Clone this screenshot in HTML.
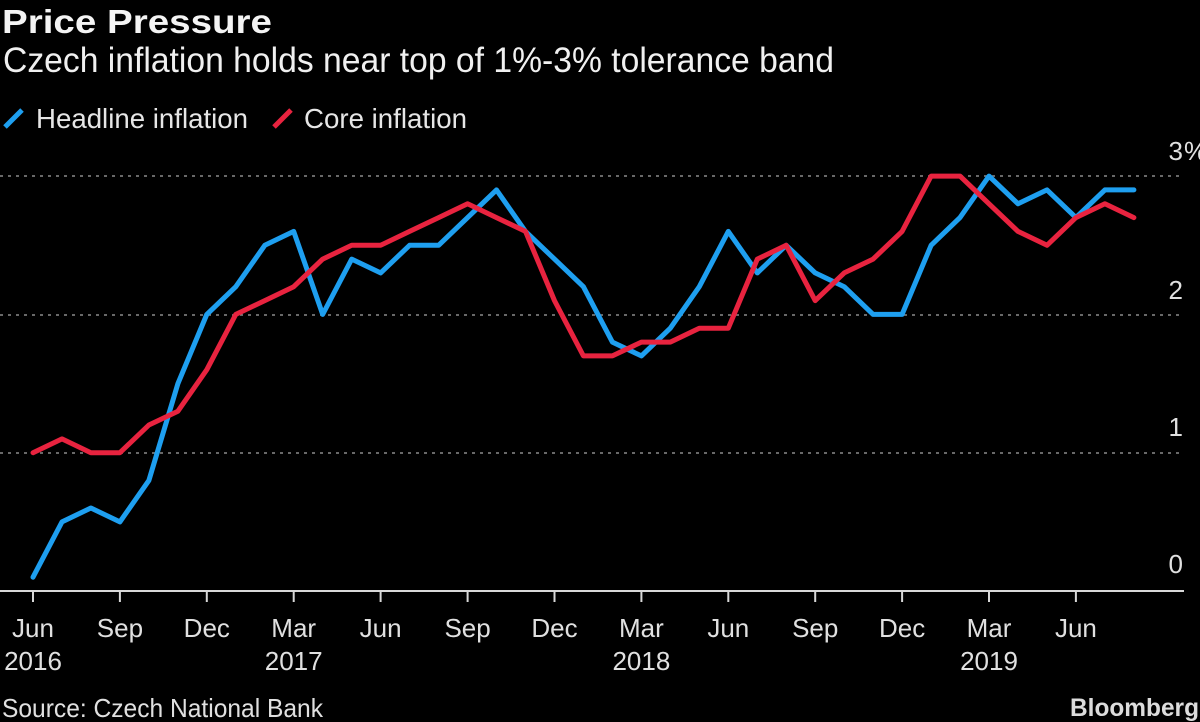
<!DOCTYPE html>
<html>
<head>
<meta charset="utf-8">
<style>
html,body{margin:0;padding:0;background:#000;}
svg{display:block;}
text{font-family:"Liberation Sans",sans-serif;}
</style>
</head>
<body>
<svg width="1200" height="722" viewBox="0 0 1200 722" xmlns="http://www.w3.org/2000/svg">
<rect width="1200" height="722" fill="#000"/>
<text x="2" y="33" font-size="33" font-weight="bold" fill="#f4f4f4" textLength="270" lengthAdjust="spacingAndGlyphs">Price Pressure</text>
<text x="3" y="72" font-size="35" fill="#f0f0f0" textLength="831" lengthAdjust="spacingAndGlyphs">Czech inflation holds near top of 1%-3% tolerance band</text>
<line x1="5" y1="127" x2="22" y2="110" stroke="#1e9ff0" stroke-width="5"/>
<text x="36" y="128" font-size="28" fill="#e6e6e6" textLength="212" lengthAdjust="spacingAndGlyphs">Headline inflation</text>
<line x1="274" y1="127" x2="291" y2="110" stroke="#e8233f" stroke-width="5"/>
<text x="304" y="128" font-size="28" fill="#e6e6e6" textLength="163" lengthAdjust="spacingAndGlyphs">Core inflation</text>

<g stroke="#8a8a8a" stroke-width="1.5" stroke-dasharray="3,5">
<line x1="0" y1="176" x2="1184" y2="176"/>
<line x1="0" y1="315" x2="1184" y2="315"/>
<line x1="0" y1="453" x2="1184" y2="453"/>
</g>
<line x1="0" y1="591" x2="1184" y2="591" stroke="#d8d8d8" stroke-width="2"/>
<g stroke="#d8d8d8" stroke-width="2">
<line x1="33" y1="591" x2="33" y2="602"/>
<line x1="119.9" y1="591" x2="119.9" y2="602"/>
<line x1="206.8" y1="591" x2="206.8" y2="602"/>
<line x1="293.7" y1="591" x2="293.7" y2="602"/>
<line x1="380.6" y1="591" x2="380.6" y2="602"/>
<line x1="467.6" y1="591" x2="467.6" y2="602"/>
<line x1="554.5" y1="591" x2="554.5" y2="602"/>
<line x1="641.4" y1="591" x2="641.4" y2="602"/>
<line x1="728.3" y1="591" x2="728.3" y2="602"/>
<line x1="815.2" y1="591" x2="815.2" y2="602"/>
<line x1="902.1" y1="591" x2="902.1" y2="602"/>
<line x1="989" y1="591" x2="989" y2="602"/>
<line x1="1075.9" y1="591" x2="1075.9" y2="602"/>
</g>
<g font-size="26" fill="#e0e0e0" text-anchor="middle">
<text x="33" y="637">Jun</text>
<text x="119.9" y="637">Sep</text>
<text x="206.8" y="637">Dec</text>
<text x="293.7" y="637">Mar</text>
<text x="380.6" y="637">Jun</text>
<text x="467.6" y="637">Sep</text>
<text x="554.5" y="637">Dec</text>
<text x="641.4" y="637">Mar</text>
<text x="728.3" y="637">Jun</text>
<text x="815.2" y="637">Sep</text>
<text x="902.1" y="637">Dec</text>
<text x="989" y="637">Mar</text>
<text x="1075.9" y="637">Jun</text>
<text x="33" y="670">2016</text>
<text x="293.7" y="670">2017</text>
<text x="641.4" y="670">2018</text>
<text x="989" y="670">2019</text>
</g>
<g font-size="26" fill="#e0e0e0" text-anchor="end">
<text x="1183" y="160">3</text>
<text x="1183" y="299">2</text>
<text x="1183" y="436">1</text>
<text x="1183" y="573">0</text>
</g>
<text x="1184" y="160" font-size="26" fill="#e0e0e0">%</text>

<polyline fill="none" stroke="#1e9ff0" stroke-width="5" stroke-linejoin="round" stroke-linecap="round" points="33,577.2 62,521.9 90.9,508 119.9,521.9 148.9,480.4 177.9,383.6 206.8,314.4 235.8,286.7 264.8,245.3 293.7,231.4 322.7,314.4 351.7,259.1 380.6,272.9 409.6,245.3 438.6,245.3 467.6,217.6 496.5,189.9 525.5,231.4 554.5,259.1 583.4,286.7 612.4,342.1 641.4,355.9 670.3,328.2 699.3,286.7 728.3,231.4 757.3,272.9 786.2,245.3 815.2,272.9 844.2,286.7 873.1,314.4 902.1,314.4 931.1,245.3 960,217.6 989,176.1 1018,203.8 1047,189.9 1075.9,217.6 1104.9,189.9 1133.9,189.9"/>
<polyline fill="none" stroke="#e8233f" stroke-width="5" stroke-linejoin="round" stroke-linecap="round" points="33,452.7 62,438.9 90.9,452.7 119.9,452.7 148.9,425 177.9,411.2 206.8,369.7 235.8,314.4 264.8,300.6 293.7,286.7 322.7,259.1 351.7,245.3 380.6,245.3 409.6,231.4 438.6,217.6 467.6,203.8 496.5,217.6 525.5,231.4 554.5,300.6 583.4,355.9 612.4,355.9 641.4,342.1 670.3,342.1 699.3,328.2 728.3,328.2 757.3,259.1 786.2,245.3 815.2,300.6 844.2,272.9 873.1,259.1 902.1,231.4 931.1,176.1 960,176.1 989,203.8 1018,231.4 1047,245.3 1075.9,217.6 1104.9,203.8 1133.9,217.6"/>

<text x="2" y="717" font-size="26" fill="#e0e0e0" textLength="321" lengthAdjust="spacingAndGlyphs">Source: Czech National Bank</text>
<text x="1070" y="716" font-size="25" font-weight="bold" fill="#dcdcdc" textLength="129" lengthAdjust="spacingAndGlyphs">Bloomberg</text>
</svg>
</body>
</html>
